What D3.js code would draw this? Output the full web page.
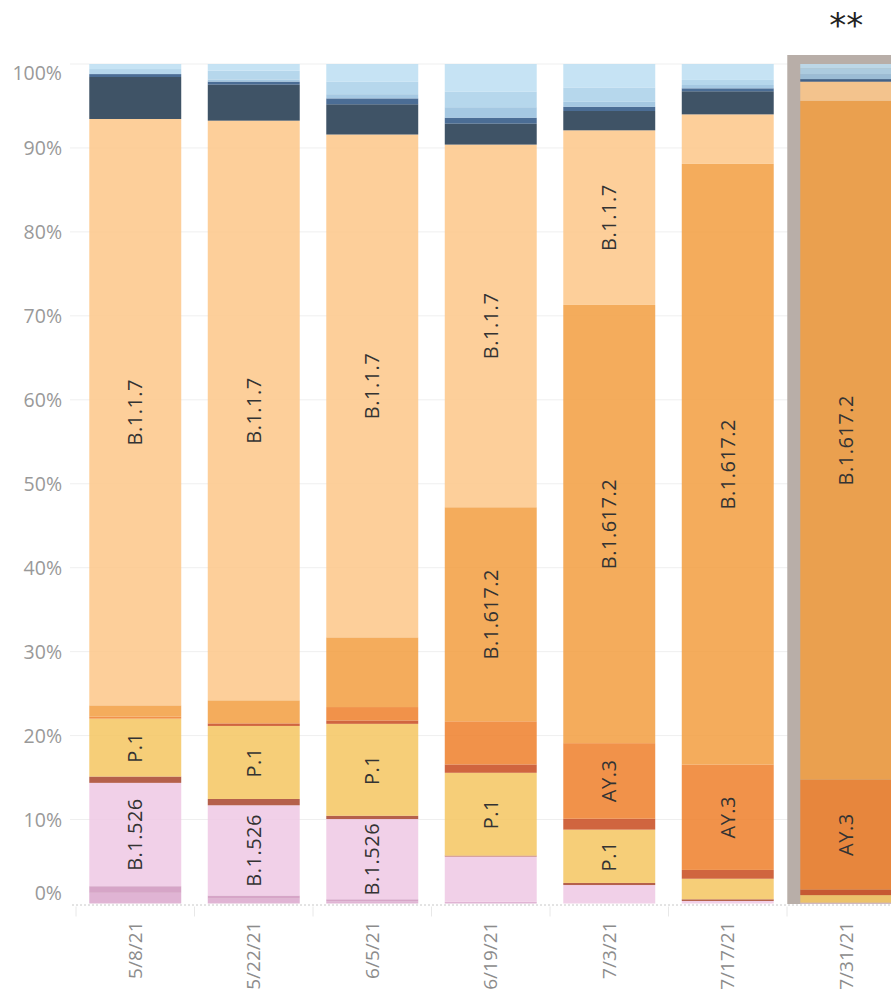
<!DOCTYPE html>
<html>
<head>
<meta charset="utf-8">
<script src="https://cdn.jsdelivr.net/npm/d3@7"></script>
<style>
  body { margin: 0; background: #fff; }
  svg { display: block; font-family: "Open Sans", sans-serif; }
</style>
</head>
<body>
<script>
/* DATA (share of sequenced samples, %, bottom to top) */
const dates = ["5/8/21", "5/22/21", "6/5/21", "6/19/21", "7/3/21", "7/17/21", "7/31/21"];
const lineages = ["B.1.427/B.1.429", "B.1.525", "B.1.526", "B.1.351", "P.1", "AY.2",
  "AY.3", "B.1.617.2", "B.1.1.7", "Other", "B.1.617.1", "B.1.1.519", "B.1.243", "B.1.2"];
const b1427 = [1.27, 0.57, 0.25, 0.2, 0, 0, 0];
const b1525 = [0.79, 0.38, 0.25, 0, 0, 0, 0];
const b1526 = [12.31, 10.75, 9.56, 5.4, 2.2, 0.3, 0.1];
const b1351 = [0.75, 0.75, 0.39, 0.1, 0.25, 0.2, 0];
const p1 = [6.9, 8.7, 10.95, 9.87, 6.35, 2.45, 0.9];
const ay2 = [0, 0.3, 0.4, 0.99, 1.3, 1.05, 0.65];
const ay3 = [0.24, 0, 1.6, 5.14, 9.0, 12.55, 13.1];
const b16172 = [1.34, 2.75, 8.3, 25.5, 52.2, 71.55, 80.85];
const b117 = [69.85, 69.05, 59.9, 43.2, 20.8, 5.9, 2.3];
const other = [5.0, 4.3, 3.6, 2.5, 2.3, 2.75, 0];
const b16171 = [0.35, 0.35, 0.7, 0.7, 0.5, 0.35, 0.3];
const b11519 = [0, 0.25, 0.5, 1.25, 0.6, 0.4, 0.6];
const b1243 = [0.6, 1.05, 1.5, 1.85, 1.7, 0.6, 0.7];
const b12 = [0.6, 0.8, 2.1, 3.3, 2.8, 1.9, 0.5];
const yTicks = [0, 10, 20, 30, 40, 50, 60, 70, 80, 90, 100];
const labelled = ["B.1.526", "P.1", "AY.3", "B.1.617.2", "B.1.1.7"];
const highlighted = "7/31/21";

const seriesValues = [b1427, b1525, b1526, b1351, p1, ay2, ay3, b16172, b117, other, b16171, b11519, b1243, b12];
const colors = ["#daa7cc", "#cf95bd", "#efc8e4", "#a8442c", "#f4c660", "#c84a1d",
  "#ee7f2a", "#f29d3f", "#fdc788", "#1d354b", "#2b5483", "#95bedd", "#a9d0e9", "#bcdef2"];

/* TABLE */
const rows = dates.map((d, i) => {
  const r = { date: d };
  lineages.forEach((l, j) => { r[l] = seriesValues[j][i]; });
  return r;
});

const WIDTH = 891, HEIGHT = 995;

const svg = d3.select("body").append("svg")
  .attr("width", WIDTH)
  .attr("height", HEIGHT);

const x = d3.scaleBand()
  .domain(dates)
  .range([76, 905.5])
  .paddingInner(0.224)
  .paddingOuter(0.112);

const y = d3.scaleLinear()
  .domain([0, 100])
  .range([903.5, 64]);

const color = d3.scaleOrdinal().domain(lineages).range(colors);

// gridlines
svg.append("g")
  .selectAll("line")
  .data(yTicks.filter(t => t > 0))
  .enter()
  .append("line")
  .attr("x1", 70).attr("x2", WIDTH)
  .attr("y1", d => y(d)).attr("y2", d => y(d))
  .attr("stroke", "#efefef");

// highlight box behind the last bar
svg.append("rect")
  .attr("x", x(highlighted) - 13)
  .attr("y", 55)
  .attr("width", x.bandwidth() + 26)
  .attr("height", y(0) - 55 + 0.5)
  .attr("fill", "#b8aea8");

svg.append("text")
  .attr("x", x(highlighted) + x.bandwidth() / 2)
  .attr("y", 37)
  .attr("text-anchor", "middle")
  .attr("font-family", "DejaVu Sans, sans-serif")
  .attr("font-size", 34)
  .attr("fill", "#222")
  .text("**");

const stack = d3.stack().keys(lineages);
const layers = stack(rows);

const layer = svg.append("g")
  .selectAll("g")
  .data(layers)
  .enter()
  .append("g")
  .attr("fill", d => color(d.key))
  .attr("fill-opacity", 0.85);

layer.selectAll("rect")
  .data(d => d.map(p => ({ key: d.key, p: p })))
  .enter()
  .append("rect")
  .attr("x", d => x(d.p.data.date))
  .attr("width", x.bandwidth())
  .attr("y", d => y(d.p[1]))
  .attr("height", d => Math.max(0, y(d.p[0]) - y(d.p[1])));

// segment labels
const labels = svg.append("g");
layers.filter(l => labelled.includes(l.key)).forEach(l => {
  l.forEach(p => {
    const h = y(p[0]) - y(p[1]);
    const cx = x(p.data.date) + x.bandwidth() / 2;
    const cy = (y(p[0]) + y(p[1])) / 2;
    const t = labels.append("text")
      .attr("transform", `translate(${cx},${cy}) rotate(-90)`)
      .attr("text-anchor", "middle")
      .attr("dy", "0.35em")
      .attr("font-size", 20)
      .attr("letter-spacing", 0.5)
      .attr("fill", "#333")
      .text(l.key);
    if (t.node().getComputedTextLength() + 6 > h) t.remove();
  });
});

// baseline
svg.append("line")
  .attr("x1", 72).attr("x2", WIDTH)
  .attr("y1", y(0) + 1.5).attr("y2", y(0) + 1.5)
  .attr("stroke", "#c8c8c8")
  .attr("stroke-dasharray", "2,2");

// band separators under the axis
svg.append("g")
  .selectAll("line")
  .data(dates)
  .enter()
  .append("line")
  .attr("x1", d => x(d) - x.step() * x.paddingInner() / 2)
  .attr("x2", d => x(d) - x.step() * x.paddingInner() / 2)
  .attr("y1", y(0) + 3).attr("y2", y(0) + 13)
  .attr("stroke", "#e8e8e8");

// y axis
const yAxis = svg.append("g")
  .attr("transform", "translate(65,0)")
  .call(d3.axisLeft(y).tickValues(yTicks).tickSize(0).tickFormat(d => d + "%"));
yAxis.select(".domain").remove();
yAxis.selectAll("text")
  .attr("font-family", "Open Sans, sans-serif")
  .attr("font-size", 19.5)
  .attr("fill", "#999")
  .attr("dy", d => d === 100 ? "0.8em" : d === 0 ? "-0.2em" : "0.35em");

// x axis
const xAxis = svg.append("g")
  .attr("transform", `translate(0,${y(0) + 18})`)
  .call(d3.axisBottom(x).tickSize(0));
xAxis.select(".domain").remove();
xAxis.selectAll("text")
  .attr("font-family", "Open Sans, sans-serif")
  .attr("font-size", 19)
  .attr("fill", "#8c8c8c")
  .attr("text-anchor", "end")
  .attr("transform", "rotate(-90)")
  .attr("x", 0)
  .attr("y", 0)
  .attr("dx", 0)
  .attr("dy", "0.35em");
</script>
</body>
</html>
